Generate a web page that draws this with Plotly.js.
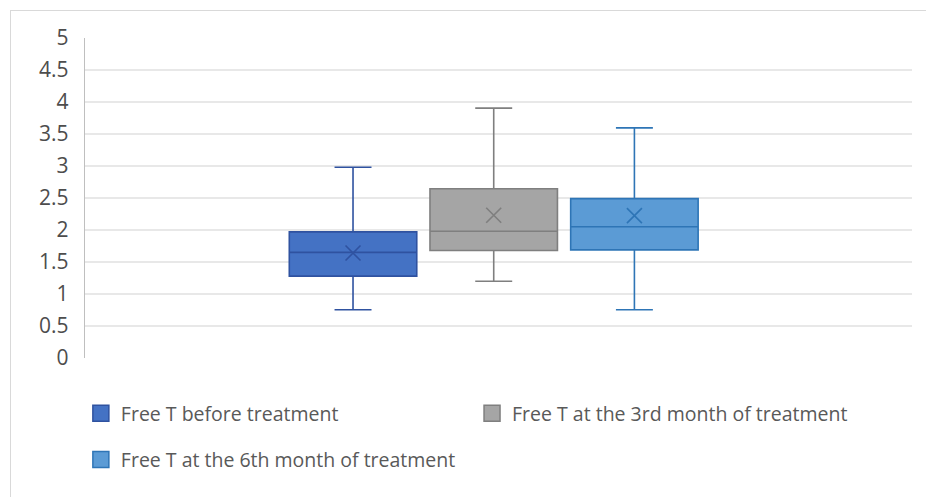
<!DOCTYPE html>
<html>
<head>
<meta charset="utf-8">
<script src="https://cdn.plot.ly/plotly-3.0.1.min.js"></script>
<style>
  html, body { margin: 0; padding: 0; background: #fff; }
  #wrap { position: relative; width: 926px; height: 497px; overflow: hidden; }
  #frame { position: absolute; left: 10px; top: 10px; width: 930px; height: 500px;
           border-left: 1.5px solid #D9D9D9; border-top: 1.5px solid #D9D9D9; box-sizing: border-box; }
  #chart { position: absolute; left: 0; top: 0; width: 926px; height: 497px; }
</style>
</head>
<body>
<div id="wrap"><div id="frame"></div><div id="chart"></div></div>
<script>
// Data
const seriesNames = ["Free T before treatment", "Free T at the 3rd month of treatment", "Free T at the 6th month of treatment"];
const lowerWhisker = [0.755, 1.20, 0.755];
const q1Values     = [1.28, 1.68, 1.69];
const medianValues = [1.65, 1.98, 2.05];
const q3Values     = [1.97, 2.645, 2.49];
const upperWhisker = [2.98, 3.905, 3.595];
const meanValues   = [1.64, 2.23, 2.225];
const yTickValues  = [0, 0.5, 1, 1.5, 2, 2.5, 3, 3.5, 4, 4.5, 5];
const yTickLabels  = ["0", "0.5", "1", "1.5", "2", "2.5", "3", "3.5", "4", "4.5", "5"];

const fillColors = ["#4472C4", "#A5A5A5", "#5B9BD5"];
const lineColors = ["#2F52A0", "#7F7F7F", "#2E75B6"];
const positions = [1, 2, 3];
const legendIds = ["legend", "legend2", "legend3"];

const traces = [];
seriesNames.forEach((name, i) => {
  traces.push({
    type: "box",
    name: name,
    x: [positions[i]],
    q1: [q1Values[i]],
    median: [medianValues[i]],
    q3: [q3Values[i]],
    lowerfence: [lowerWhisker[i]],
    upperfence: [upperWhisker[i]],
    width: 0.906,
    whiskerwidth: 0.29,
    fillcolor: fillColors[i],
    line: { color: lineColors[i], width: 1.6 },
    boxpoints: false,
    hoverinfo: "skip",
    showlegend: false
  });
});
seriesNames.forEach((name, i) => {
  traces.push({
    type: "scatter",
    mode: "markers",
    x: [positions[i]],
    y: [meanValues[i]],
    marker: { symbol: "x-thin-open", size: 15, line: { color: lineColors[i], width: 1.6 }, color: lineColors[i] },
    showlegend: false,
    hoverinfo: "skip"
  });
});
// legend entries (square swatches like the original)
seriesNames.forEach((name, i) => {
  traces.push({
    type: "scatter",
    mode: "markers",
    name: name,
    x: [null],
    y: [null],
    marker: { symbol: "square", size: 16, color: fillColors[i], line: { color: lineColors[i], width: 1.5 } },
    showlegend: true,
    hoverinfo: "skip",
    legend: legendIds[i]
  });
});

const legendFont = { size: 19.5, color: "#595959" };
function mkLegend(x, y) {
  return {
    orientation: "h", x: x, xanchor: "left", y: y, yanchor: "middle",
    itemwidth: 30, font: legendFont, bgcolor: "rgba(0,0,0,0)"
  };
}

const layout = {
  width: 926,
  height: 497,
  margin: { l: 85, r: 14, t: 38, b: 139 },
  paper_bgcolor: "rgba(0,0,0,0)",
  plot_bgcolor: "rgba(0,0,0,0)",
  font: { family: "Open Sans, Noto Sans, sans-serif", color: "#595959", size: 21 },
  showlegend: true,
  xaxis: {
    range: [-0.905, 4.973],
    showticklabels: false,
    showgrid: false,
    zeroline: false,
    showline: false,
    ticks: ""
  },
  yaxis: {
    range: [0, 5],
    tickmode: "array",
    tickvals: yTickValues,
    ticktext: yTickLabels,
    showgrid: true,
    gridcolor: "#E8E8E8",
    gridwidth: 1.3,
    zeroline: false,
    showline: true,
    linecolor: "#BFBFBF",
    linewidth: 1.3,
    ticks: "",
    ticklabelstandoff: 11,
    automargin: false,
    tickfont: { family: "Open Sans, Noto Sans, sans-serif", size: 21, color: "#4D4D4D" }
  },
  legend: mkLegend(-0.005, -0.174),
  legend2: mkLegend(0.468, -0.174),
  legend3: mkLegend(-0.005, -0.318)
};

Plotly.newPlot("chart", traces, layout, { displayModeBar: false, staticPlot: true });
</script>
</body>
</html>
